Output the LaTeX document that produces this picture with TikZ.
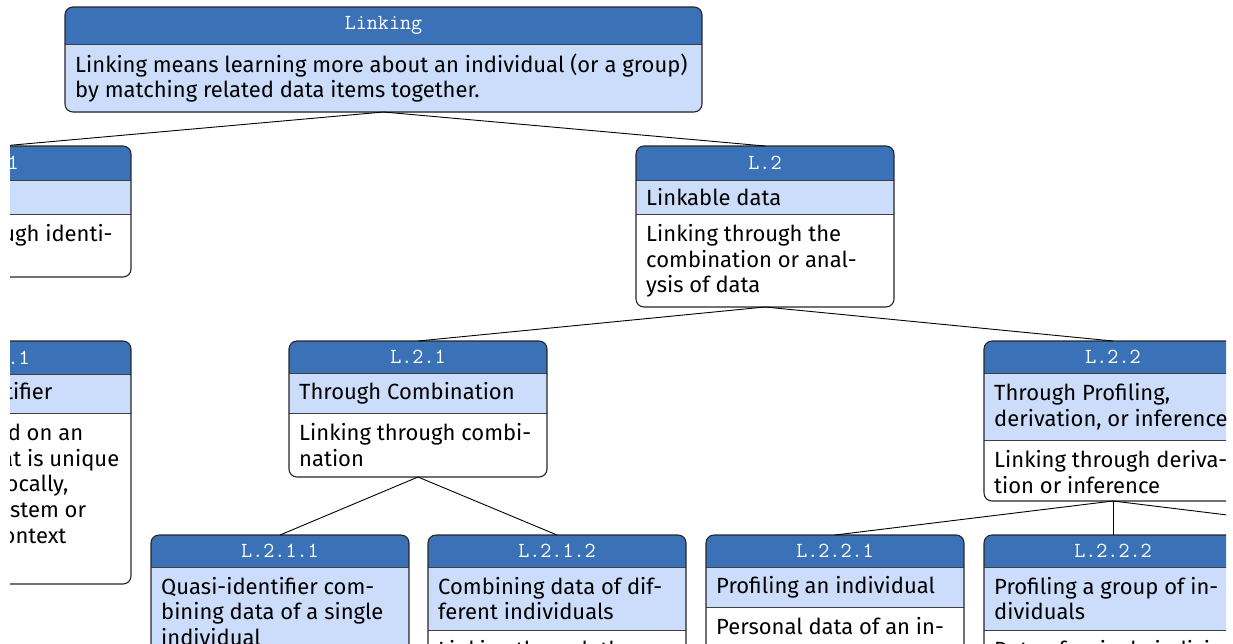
\documentclass[tikz,border=0pt]{standalone}
\usepackage{fontspec}
\setmainfont{Fira Sans}
\newcommand\hdrfont{\ttfamily\addfontfeatures{LetterSpace=4}}
\definecolor{hdrblue}{RGB}{59,114,183}
\definecolor{ttlblue}{RGB}{204,221,251}
\tikzset{
  boxline/.style={draw=black!85, line width=1.1pt},
  sepline/.style={draw=black!75, line width=1pt},
  conn/.style={draw=black, line width=0.9pt},
  hdrtext/.style={font=\hdrfont\fontsize{21.5}{25}\selectfont, text=white, inner sep=0pt},
  bodytext/.style={font=\fontsize{22}{25.8}\selectfont, align=left, inner sep=0pt, text=black},
}
\def\bw{258}
% name, left, top, header bottom, title bottom, bottom, header, title, description
\newcommand\tbox[9]{%
  \node[inner sep=0pt, outer sep=0pt, minimum width=\bw pt, minimum height={(#6-#3)*1pt}, anchor=north west] (#1) at (#2,#3) {};
  \begin{scope}
    \clip[rounded corners=8pt] (#2,#3) rectangle (#2+\bw,#6);
    \fill[white] (#2,#3) rectangle (#2+\bw,#6);
    \fill[hdrblue] (#2,#3) rectangle (#2+\bw,#4);
    \fill[ttlblue] (#2,#4) rectangle (#2+\bw,#5);
    \draw[sepline] (#2,#4) -- (#2+\bw,#4);
    \draw[sepline] (#2,#5) -- (#2+\bw,#5);
  \end{scope}
  \draw[boxline, rounded corners=8pt] (#2,#3) rectangle (#2+\bw,#6);
  \node[hdrtext] (#1-h) at ({#2+\bw/2}, {(#3+#4)/2}) {#7};
  \node[bodytext, anchor=west] (#1-t) at (#2+10, {(#4+#5)/2}) {#8};
  \node[bodytext, anchor=north west] (#1-d) at (#2+10, #5+10) {#9};
}
\begin{document}
\begin{tikzpicture}[x=1pt, y=-1pt]
\useasboundingbox (0,0) rectangle (1233,643);
\clip (10,0) rectangle (1226,643);
\def\bw{637}
\tbox{T}{65}{7}{44}{112}{112}{Linking}{Linking means learning more about an individual (or a group)\\by matching related data items together.}{}
\def\bw{258}
\tbox{L1}{-127}{146}{180}{214}{277}{L.1}{}{Linking through identi-\\fiers}
\tbox{L2}{636}{146}{180}{214}{307}{L.2}{Linkable data}{Linking through the\\combination or anal-\\ysis of data}
\tbox{L11}{-127}{341}{374}{413}{584}{L.1.1}{Unique Identifier}{Linking based on an\\identifier that is unique\\globally, or locally,\\within the system or\\a concrete context}
\tbox{L21}{289}{341}{373}{413}{477}{L.2.1}{Through Combination}{Linking through combi-\\nation}
\tbox{L22}{984}{341}{373}{440}{501}{L.2.2}{Through Profiling,\\derivation, or inference}{Linking through deriva-\\tion or inference}
\tbox{L211}{151}{535}{567}{656}{700}{L.2.1.1}{Quasi-identifier com-\\bining data of a single\\individual}{}
\tbox{L212}{428}{535}{567}{630}{700}{L.2.1.2}{Combining data of dif-\\ferent individuals}{Linking through the}
\tbox{L221}{706}{535}{567}{607}{700}{L.2.2.1}{Profiling an individual}{Personal data of an in-}
\tbox{L222}{984}{535}{567}{630}{700}{L.2.2.2}{Profiling a group of in-\\dividuals}{Data of a single indivi-}
\coordinate (L223) at (1391,535);
% connectors
\draw[conn] (T.south) -- (L1.north);
\draw[conn] (T.south) -- (L2.north);
\draw[conn] (L1.south) -- (L11.north);
\draw[conn] (L2.south) -- (L21.north);
\draw[conn] (L2.south) -- (L22.north);
\draw[conn] (L21.south) -- (L211.north);
\draw[conn] (L21.south) -- (L212.north);
\draw[conn] (L22.south) -- (L221.north);
\draw[conn] (L22.south) -- (L222.north);
\draw[conn] (L22.south) -- (L223);
\end{tikzpicture}
\end{document}
